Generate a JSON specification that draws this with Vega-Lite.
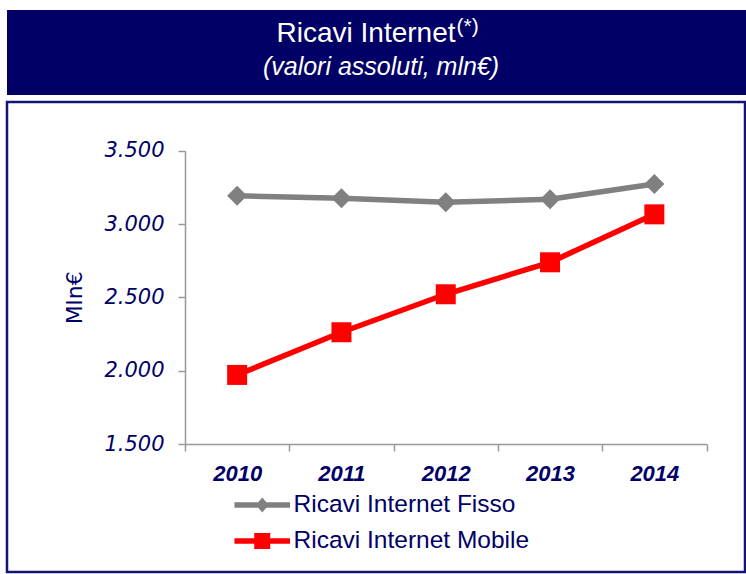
{
  "$schema": "https://vega.github.io/schema/vega-lite/v6.json",
  "padding": {"left": 5, "top": 10, "right": 0, "bottom": 0},
  "background": "white",
  "spacing": 7,
  "bounds": "flush",
  "config": {
    "view": {"stroke": null},
    "axis": {"grid": false},
    "font": "Liberation Sans"
  },
  "vconcat": [
    {
      "width": 741,
      "height": 85,
      "view": {"fill": "#000066", "stroke": null},
      "layer": [
        {
          "data": {"values": [{"label": "Ricavi Internet"}]},
          "mark": {"type": "text", "align": "right", "baseline": "alphabetic", "dx": 78, "dy": -10.8, "fontSize": 28, "fill": "white", "font": "Liberation Sans"},
          "encoding": {"text": {"field": "label"}}
        },
        {
          "data": {"values": [{"label": "(*)"}]},
          "mark": {"type": "text", "align": "left", "baseline": "alphabetic", "dx": 79, "dy": -19.8, "fontSize": 21, "fill": "white", "font": "Liberation Sans"},
          "encoding": {"text": {"field": "label"}}
        },
        {
          "data": {"values": [{"label": "(valori assoluti, mln€)"}]},
          "mark": {"type": "text", "align": "center", "baseline": "alphabetic", "dx": 3.5, "dy": 22.5, "fontSize": 25, "fontStyle": "italic", "fill": "white", "font": "Liberation Sans"},
          "encoding": {"text": {"field": "label"}}
        }
      ]
    },
    {
      "width": 738,
      "height": 470,
      "view": {"stroke": "#141478", "strokeWidth": 2.5, "fill": "white"},
      "data": {
        "values": [
          {"anno": "2010", "serie": "Ricavi Internet Fisso", "valore": 3193},
          {"anno": "2011", "serie": "Ricavi Internet Fisso", "valore": 3175},
          {"anno": "2012", "serie": "Ricavi Internet Fisso", "valore": 3148},
          {"anno": "2013", "serie": "Ricavi Internet Fisso", "valore": 3169},
          {"anno": "2014", "serie": "Ricavi Internet Fisso", "valore": 3273},
          {"anno": "2010", "serie": "Ricavi Internet Mobile", "valore": 1971},
          {"anno": "2011", "serie": "Ricavi Internet Mobile", "valore": 2262},
          {"anno": "2012", "serie": "Ricavi Internet Mobile", "valore": 2521},
          {"anno": "2013", "serie": "Ricavi Internet Mobile", "valore": 2739},
          {"anno": "2014", "serie": "Ricavi Internet Mobile", "valore": 3066}
        ]
      },
      "encoding": {
        "x": {
          "field": "anno",
          "type": "ordinal",
          "scale": {"type": "band", "range": [178, 699.5], "paddingInner": 0, "paddingOuter": 0},
          "axis": {
            "orient": "bottom",
            "offset": -128,
            "tickBand": "extent",
            "labelAngle": 0,
            "domainColor": "#999999",
            "domainWidth": 1.5,
            "tickColor": "#999999",
            "tickWidth": 1.5,
            "tickSize": 7,
            "labelFont": "Liberation Sans",
            "labelFontStyle": "italic",
            "labelFontWeight": "bold",
            "labelFontSize": 22,
            "labelColor": "#000066",
            "labelPadding": 12,
            "title": null
          }
        },
        "y": {
          "field": "valore",
          "type": "quantitative",
          "scale": {"domain": [1500, 3500], "range": [342, 48.7], "nice": false, "zero": false},
          "axis": {
            "orient": "left",
            "offset": -178,
            "values": [1500, 2000, 2500, 3000, 3500],
            "labelExpr": "replace(format(datum.value, ','), ',', '.')",
            "domainColor": "#999999",
            "domainWidth": 1.5,
            "tickColor": "#999999",
            "tickWidth": 1.5,
            "tickSize": 7,
            "labelFont": "DejaVu Sans",
            "labelFontStyle": "italic",
            "labelFontSize": 21,
            "labelColor": "#000066",
            "labelPadding": 14,
            "title": "Mln€",
            "titleFont": "DejaVu Sans",
            "titleFontSize": 22,
            "titleFontWeight": "normal",
            "titleColor": "#000066",
            "titlePadding": 17
          }
        },
        "color": {
          "field": "serie",
          "type": "nominal",
          "scale": {"domain": ["Ricavi Internet Fisso", "Ricavi Internet Mobile"], "range": ["#808080", "#ff0000"]},
          "legend": {
            "orient": "none",
            "legendX": 243,
            "legendY": 482.7,
            "title": null,
            "direction": "vertical",
            "symbolSize": 400,
            "labelFont": "Liberation Sans",
            "labelFontSize": 24.5,
            "labelColor": "#000066",
            "labelOffset": 19,
            "labelLimit": 400,
            "rowPadding": 11,
            "padding": 0,
            "encode": {
              "symbols": {
                "update": {
                  "shape": {"signal": "datum.value === 'Ricavi Internet Fisso' ? 'M-2.78,-0.275H2.78V0.275H-2.78Z M0,-0.75L0.65,0L0,0.75L-0.65,0Z' : 'M-2.78,-0.275H2.78V0.275H-2.78Z M-0.8,-0.8H0.8V0.8H-0.8Z'"},
                  "fill": {"signal": "datum.value === 'Ricavi Internet Fisso' ? '#808080' : '#ff0000'"},
                  "stroke": {"value": "transparent"},
                  "strokeWidth": {"value": 0},
                  "opacity": {"value": 1}
                }
              }
            }
          }
        }
      },
      "layer": [
        {"mark": {"type": "line", "strokeWidth": 5.5}},
        {
          "transform": [{"filter": "datum.serie === 'Ricavi Internet Fisso'"}],
          "mark": {"type": "point", "shape": "diamond", "filled": true, "opacity": 1, "size": 400}
        },
        {
          "transform": [{"filter": "datum.serie === 'Ricavi Internet Mobile'"}],
          "mark": {"type": "point", "shape": "square", "filled": true, "opacity": 1, "size": 400}
        }
      ]
    }
  ]
}
